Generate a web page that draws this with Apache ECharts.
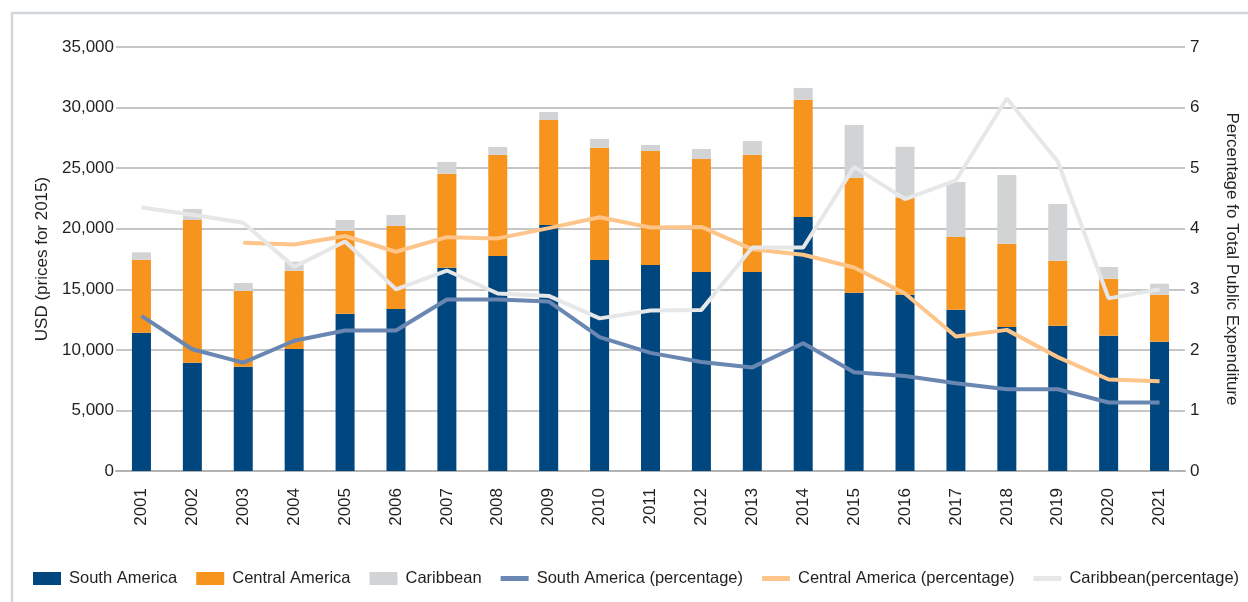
<!DOCTYPE html>
<html lang="en">
<head>
    <meta charset="utf-8">
    <title>Expenditure by region</title>
    <script src="https://cdn.jsdelivr.net/npm/echarts@6/dist/echarts.min.js"></script>
    <style>
        html, body {
            margin: 0;
            padding: 0;
            background: #fff;
        }
        #chart {
            width: 1248px;
            height: 602px;
        }
    </style>
</head>
<body>
<div id="chart"></div>

<script>
    // data
    var years = ['2001', '2002', '2003', '2004', '2005', '2006', '2007', '2008', '2009', '2010', '2011',
        '2012', '2013', '2014', '2015', '2016', '2017', '2018', '2019', '2020', '2021'];

    var southAmerica = [11420, 8940, 8610, 10070, 12990, 13370, 16780, 17750, 20310, 17420, 17000,
        16430, 16430, 20970, 14720, 14550, 13320, 11890, 12000, 11170, 10670];
    var centralAmerica = [6020, 11780, 6250, 6470, 6850, 6850, 7760, 8340, 8660, 9270, 9420,
        9320, 9660, 9680, 9490, 8010, 6000, 6870, 5360, 4710, 3880];
    var caribbean = [610, 910, 660, 740, 880, 910, 970, 660, 660, 720, 490,
        830, 1150, 970, 4350, 4210, 4540, 5670, 4680, 960, 910];

    var southAmericaPct = [2.56, 2.01, 1.79, 2.15, 2.32, 2.32, 2.83, 2.83, 2.80, 2.21, 1.95,
        1.80, 1.71, 2.11, 1.63, 1.57, 1.45, 1.35, 1.35, 1.13, 1.13];
    var centralAmericaPct = [null, null, 3.77, 3.74, 3.88, 3.62, 3.86, 3.84, 4.01, 4.19, 4.02,
        4.03, 3.66, 3.57, 3.36, 2.93, 2.22, 2.33, 1.88, 1.51, 1.48];
    var caribbeanPct = [4.35, 4.23, 4.10, 3.37, 3.79, 3.00, 3.31, 2.93, 2.89, 2.52, 2.65,
        2.66, 3.69, 3.69, 5.02, 4.49, 4.80, 6.15, 5.11, 2.85, 3.00];

    var leftTicks = [0, 5000, 10000, 15000, 20000, 25000, 30000, 35000];

    var font = '"Liberation Sans", Arial, sans-serif';
    var fontSize = 17;
    var textColor = '#231f20';
    var lineIcon = 'path://M0,0h28v5h-28z';

    var myChart = echarts.init(document.getElementById('chart'));

    function barSeries(name, data, color) {
        return {
            name: name,
            type: 'bar',
            stack: 'usd',
            barWidth: 19,
            itemStyle: { color: color },
            data: data
        };
    }

    function lineSeries(name, data, color) {
        return {
            name: name,
            type: 'line',
            yAxisIndex: 1,
            symbol: 'none',
            connectNulls: false,
            lineStyle: { color: color, width: 4 },
            itemStyle: { color: color },
            data: data
        };
    }

    var option = {
        animation: false,
        textStyle: { fontFamily: font, color: textColor },
        graphic: [{
            type: 'rect',
            shape: { x: 12, y: 13, width: 1260, height: 620 },
            style: { fill: 'none', stroke: '#d3d6d9', lineWidth: 2.5 },
            silent: true,
            z: -1
        }],
        legend: {
            left: 33,
            top: 570,
            width: 1214,
            padding: 0,
            itemWidth: 28,
            itemHeight: 13,
            itemGap: 19,
            symbolKeepAspect: true,
            textStyle: { fontFamily: font, fontSize: 16.5, color: textColor, padding: [0, 0, 0, 3] },
            data: [
                { name: 'South America', icon: 'rect' },
                { name: 'Central America', icon: 'rect' },
                { name: 'Caribbean', icon: 'rect' },
                { name: 'South America (percentage)', icon: lineIcon },
                { name: 'Central America (percentage)', icon: lineIcon },
                { name: 'Caribbean(percentage)', icon: lineIcon }
            ]
        },
        grid: {
            left: 116,
            right: 54,
            top: 47,
            bottom: 131
        },
        xAxis: {
            type: 'category',
            data: years,
            axisTick: { show: false },
            axisLine: { lineStyle: { color: '#b3b3b3', width: 2 } },
            axisLabel: {
                rotate: 90,
                margin: 17,
                fontSize: fontSize,
                fontFamily: font,
                color: textColor
            }
        },
        yAxis: [
            {
                type: 'value',
                min: leftTicks[0],
                max: leftTicks[leftTicks.length - 1],
                interval: 5000,
                name: 'USD (prices for 2015)',
                nameLocation: 'middle',
                nameRotate: 90,
                nameGap: 64,
                nameTextStyle: { fontSize: fontSize, fontFamily: font, color: textColor },
                axisLabel: {
                    fontSize: fontSize,
                    fontFamily: font,
                    color: textColor,
                    margin: 2,
                    formatter: function (v) {
                        return v.toLocaleString('en-US');
                    }
                },
                splitLine: { lineStyle: { color: '#b3b3b3', width: 1.5 } }
            },
            {
                type: 'value',
                min: 0,
                max: 7,
                interval: 1,
                name: 'Percentage fo Total Public Expenditure',
                nameLocation: 'middle',
                nameRotate: -90,
                nameGap: 38,
                nameTextStyle: { fontSize: fontSize, fontFamily: font, color: textColor },
                axisLabel: {
                    fontSize: fontSize,
                    fontFamily: font,
                    color: textColor,
                    margin: 5
                },
                splitLine: { show: false }
            }
        ],
        series: [
            barSeries('South America', southAmerica, '#00467f'),
            barSeries('Central America', centralAmerica, '#f7941d'),
            barSeries('Caribbean', caribbean, '#d1d3d4'),
            lineSeries('South America (percentage)', southAmericaPct, '#6a87b2'),
            lineSeries('Central America (percentage)', centralAmericaPct, '#fdc58a'),
            lineSeries('Caribbean(percentage)', caribbeanPct, '#e6e7e8')
        ]
    };

    myChart.setOption(option);
</script>
</body>
</html>
